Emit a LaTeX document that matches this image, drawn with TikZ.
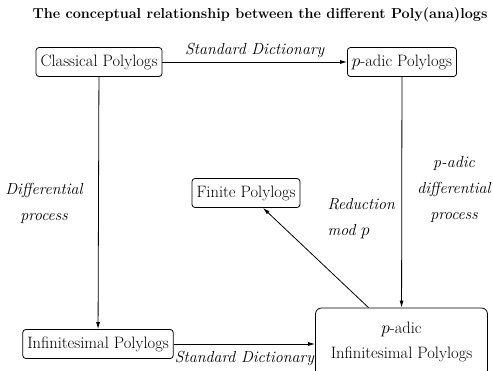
\documentclass[tikz,border=0pt]{standalone}
\usetikzlibrary{arrows.meta, positioning}

\begin{document}
\begin{tikzpicture}[
    x=1pt, y=-1pt,
    >={Latex[length=7pt, width=4pt]},
    block/.style={draw, rectangle, rounded corners=3pt, line width=0.8pt, minimum height=29pt, inner xsep=4.5pt, align=center, font=\fontsize{16.5}{25}\selectfont},
    lbl/.style={font=\fontsize{16}{26}\selectfont\itshape},
    node distance=303pt
]
    \useasboundingbox (0,0) rectangle (493,370);

    % Titel
    \node[font=\fontsize{14.4}{17}\selectfont\bfseries] (title) at (260,15) {The conceptual relationship between the different Poly(ana)logs};

    % Blokken
    \node[block] (classical) at (99,62) {Classical Polylogs};
    \node[block, right of=classical] (padic) {$p$-adic Polylogs};
    \node[block] (finite) at (246,193) {Finite Polylogs};
    \node[block] (infin) at (98,344) {Infinitesimal Polylogs};
    \node[block, rounded corners=6pt, minimum width=172pt, minimum height=68pt, right of=infin, node distance=303.5pt, yshift=2pt] (padicinf) {$p$-adic\\Infinitesimal Polylogs};

    % Labels aan de zijkant
    \node[lbl, align=center] (diffproc) at (44,203) {Differential\\process};
    \node[lbl, align=center] (padicdiff) at (454,189) {p-adic\\differential\\process};
    \node[lbl, align=left, anchor=west] (redmod) at (324,219) {Reduction\\mod $p$};

    % Pijlen
    \draw[->, line width=0.8pt] (classical) -- node[lbl, above, yshift=1pt] {Standard Dictionary} (padic);
    \draw[->, line width=0.8pt] (classical) -- (infin);
    \draw[->, line width=0.8pt] (padic) -- (padicinf);
    \draw[->, line width=0.8pt] (infin) -- node[lbl, below, yshift=-3pt] {Standard Dictionary} (infin -| padicinf.west);
    \draw[->, line width=0.8pt] ([xshift=-33pt]padicinf.north) -- ([xshift=17pt]finite.south);

\end{tikzpicture}
\end{document}
